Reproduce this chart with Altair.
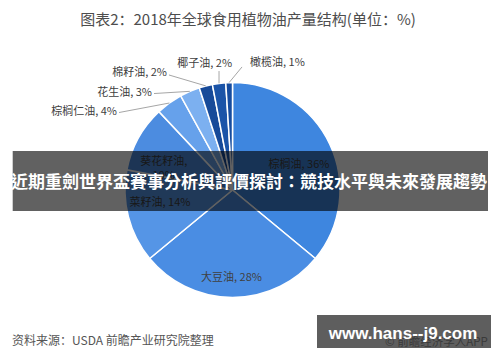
import altair as alt
import pandas as pd

# ---- data ----
categories = ["棕榈油", "大豆油", "菜籽油", "葵花籽油", "棕榈仁油", "花生油", "棉籽油", "椰子油", "橄榄油"]
shares = [36, 28, 14, 10, 4, 3, 2, 2, 1]
colors = ["#3e86df", "#4a8de3", "#5595e6", "#4c8ce0", "#66a1eb", "#7cb0f0", "#174a99", "#1b54a8", "#164c9f"]

# ---- label layout (offsets relative to computed anchors) ----
label_kind = ["in", "in", "in", "in", "outL", "outL", "outL", "outL", "outR"]
label_dx = [-3.5, -1, 2.5, -1, -52.3, -37.8, -38.8, 13, 20.9]
label_dy = [8, 10.6, -6, 9.3, 9, 1.7, -12.9, -19.3, -19.6]
leader_dx = [0, 0, 0, 0, -50.3, -35.8, -36.8, 0, 12.9]
leader_dy = [0, 0, 0, 0, 9.5, 2.2, -10.9, -12.3, -15.6]

labels = []
for c, v in zip(categories, shares):
    if c == "葵花籽油":
        labels.append(f"{c},\n{v}%")
    else:
        labels.append(f"{c}, {v}%")

df = pd.DataFrame({
    "cat": categories, "share": shares, "idx": list(range(len(categories))),
    "label": labels, "kind": label_kind,
    "tdx": label_dx, "tdy": label_dy, "ldx": leader_dx, "ldy": leader_dy,
})

CX, CY, R = 224.5, 182, 107.5
FONT = "Noto Sans CJK SC"

pie = alt.Chart(df).mark_arc(outerRadius=R, stroke="white", strokeWidth=1.5).encode(
    theta=alt.Theta("share:Q", stack=True),
    order=alt.Order("idx:Q"),
    color=alt.Color("cat:N", scale=alt.Scale(domain=categories, range=colors), legend=None),
    x=alt.value(CX), y=alt.value(CY),
)

geo = alt.Chart(df).transform_joinaggregate(
    total="sum(share)"
).transform_window(
    cum="sum(share)", sort=[alt.SortField("idx")]
).transform_calculate(
    ang="(datum.cum - datum.share/2)/datum.total*2*PI",
    ex=f"{CX} + {R}*sin(datum.ang)",
    ey=f"{CY} - {R}*cos(datum.ang)",
).transform_calculate(
    ix=f"{CX} + {R*0.72}*sin(datum.ang) + datum.tdx",
    iy=f"{CY} - {R*0.72}*cos(datum.ang) + datum.tdy",
    tx="datum.ex + datum.tdx",
    ty="datum.ey + datum.tdy",
    lx="datum.ex + datum.ldx",
    ly="datum.ey + datum.ldy",
)

leaders = geo.transform_filter("datum.kind != 'in'").mark_rule(color="#a6a6a6", strokeWidth=1).encode(
    x=alt.X("ex:Q", scale=None, axis=None), y=alt.Y("ey:Q", scale=None, axis=None),
    x2="lx:Q", y2="ly:Q",
)

inner = geo.transform_filter("datum.kind == 'in'").mark_text(
    font=FONT, fontSize=11, color="#404040", align="center", baseline="middle", lineBreak="\n", lineHeight=14
).encode(
    x=alt.X("ix:Q", scale=None, axis=None), y=alt.Y("iy:Q", scale=None, axis=None), text="label:N"
)

outL = geo.transform_filter("datum.kind == 'outL'").mark_text(
    font=FONT, fontSize=11, color="#404040", align="right", baseline="middle"
).encode(
    x=alt.X("tx:Q", scale=None, axis=None), y=alt.Y("ty:Q", scale=None, axis=None), text="label:N"
)

outR = geo.transform_filter("datum.kind == 'outR'").mark_text(
    font=FONT, fontSize=11, color="#404040", align="left", baseline="middle"
).encode(
    x=alt.X("tx:Q", scale=None, axis=None), y=alt.Y("ty:Q", scale=None, axis=None), text="label:N"
)

one = pd.DataFrame({"t": ["x"]})

title = alt.Chart(one).mark_text(
    text="图表2：2018年全球食用植物油产量结构(单位：%)", font=FONT, fontSize=15, color="#4d4d4d",
    align="center", baseline="middle"
).encode(x=alt.value(240), y=alt.value(12))

banner = alt.Chart(one).mark_rect(color="black", opacity=0.62).encode(
    x=alt.value(4.7), x2=alt.value(480), y=alt.value(143), y2=alt.value(203)
)
banner_text = alt.Chart(one).mark_text(
    text="近期重劍世界盃賽事分析與評價探討：競技水平與未來發展趨勢", font="Noto Sans CJK TC",
    fontSize=17, fontWeight="bold", color="white", align="center", baseline="middle"
).encode(x=alt.value(241), y=alt.value(175))

source = alt.Chart(one).mark_text(
    text="资料来源：USDA 前瞻产业研究院整理", font=FONT, fontSize=12, color="#555555",
    align="left", baseline="middle"
).encode(x=alt.value(4), y=alt.value(333))

wm_box = alt.Chart(one).mark_rect(color="#5e5e5e").encode(
    x=alt.value(309), x2=alt.value(483), y=alt.value(307), y2=alt.value(342)
)
wm_gray = alt.Chart(one).mark_text(
    text="© 前瞻经济学人APP", font=FONT, fontSize=11.5, color="#3a3a3a", align="left", baseline="middle"
).encode(x=alt.value(377), y=alt.value(335))
wm_text = alt.Chart(one).mark_text(
    text="www.hans--j9.com", font="Liberation Sans", fontSize=17, fontWeight="bold", color="white",
    align="center", baseline="middle"
).encode(x=alt.value(395), y=alt.value(326))

chart = alt.layer(
    pie, leaders, inner, outL, outR, title, banner, banner_text, source, wm_box, wm_gray, wm_text
).properties(
    width=484, height=340, padding=0, autosize=alt.AutoSizeParams(type="none")
).configure_view(stroke=None)

chart.save("out.html", embed_options={"renderer": "svg", "actions": False})
